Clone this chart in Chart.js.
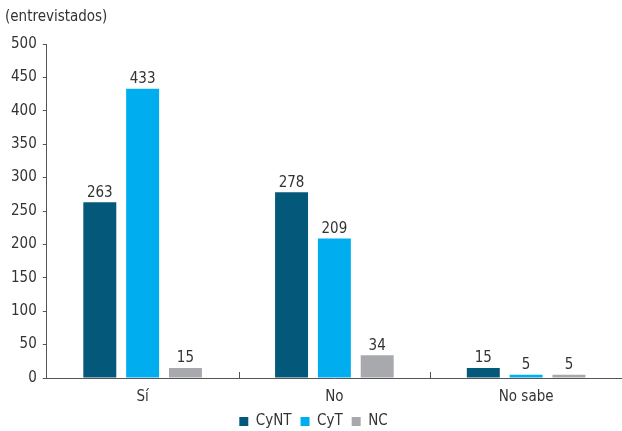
<!DOCTYPE html>
<html>
<head>
<meta charset="utf-8">
<script src="https://cdn.jsdelivr.net/npm/chart.js@4.4.1/dist/chart.umd.min.js"></script>
<style>
  html, body { margin: 0; padding: 0; background: #fff; }
  #wrap { width: 622px; height: 431px; position: relative; }
</style>
</head>
<body>
<div id="wrap"><canvas id="grafico"></canvas></div>
<script>
const categorias = ['Sí', 'No', 'No sabe']
const cynt = [263, 278, 15]
const cyt = [433, 209, 5]
const nc = [15, 34, 5]
const ticksY = [0, 50, 100, 150, 200, 250, 300, 350, 400, 450, 500]

const fuente = "'DejaVu Sans Condensed', 'Liberation Sans Narrow', sans-serif"
const gris = '#555555'

// etiquetas con el valor encima de cada barra
const valores = {
  id: 'valores',
  afterDatasetsDraw(chart) {
    const ctx = chart.ctx
    ctx.save()
    ctx.font = '15px ' + fuente
    ctx.fillStyle = '#333'
    ctx.textAlign = 'center'
    ctx.textBaseline = 'bottom'
    chart.data.datasets.forEach((ds, i) => {
      chart.getDatasetMeta(i).data.forEach((bar, j) => {
        ctx.fillText(ds.data[j], bar.x, bar.y - 2)
      })
    })
    ctx.restore()
  },
}

// marcas cortas hacia arriba entre categorias en el eje x
const marcasX = {
  id: 'marcasX',
  afterDraw(chart) {
    const x = chart.scales.x
    const ctx = chart.ctx
    ctx.save()
    ctx.strokeStyle = gris
    ctx.lineWidth = 1
    for (let i = 1; i < categorias.length; i++) {
      const px = Math.round((x.getPixelForValue(i - 1) + x.getPixelForValue(i)) / 2) + 0.5
      ctx.beginPath()
      ctx.moveTo(px, x.top)
      ctx.lineTo(px, x.top - 6)
      ctx.stroke()
    }
    ctx.restore()
  },
}

new Chart(document.getElementById('grafico'), {
  type: 'bar',
  data: {
    labels: categorias,
    datasets: [
      { label: 'CyNT', data: cynt, backgroundColor: '#04597b' },
      { label: 'CyT', data: cyt, backgroundColor: '#00aeef' },
      { label: 'NC', data: nc, backgroundColor: '#a7a9ac' },
    ],
  },
  options: {
    responsive: true,
    maintainAspectRatio: false,
    animation: false,
    categoryPercentage: 0.67,
    barPercentage: 0.77,
    layout: {
      padding: { left: 5, right: 0, top: 0, bottom: -8 },
    },
    scales: {
      x: {
        grid: { display: false, drawTicks: false },
        border: { display: true, color: gris, width: 1 },
        ticks: { color: '#333', font: { family: fuente, size: 15, lineHeight: 1 }, padding: 12 },
        afterFit(scale) {
          scale.height = 27
        },
      },
      y: {
        min: 0,
        max: 500,
        afterBuildTicks(scale) {
          scale.ticks = ticksY.map((v) => ({ value: v }))
        },
        grid: { drawOnChartArea: false, drawTicks: true, tickLength: 4, color: gris },
        border: { display: true, color: gris, width: 1 },
        ticks: { color: '#333', font: { family: fuente, size: 15 }, padding: 6 },
      },
    },
    plugins: {
      title: {
        display: true,
        text: '(entrevistados)',
        align: 'start',
        color: '#333',
        font: { family: fuente, size: 15, weight: 'normal' },
        padding: { top: 8, bottom: 18 },
      },
      legend: {
        position: 'bottom',
        labels: {
          color: '#333',
          font: { family: fuente, size: 15 },
          boxWidth: 9,
          boxHeight: 9,
          padding: 9,
        },
      },
      tooltip: { enabled: false },
    },
  },
  plugins: [valores, marcasX],
})
</script>
</body>
</html>
